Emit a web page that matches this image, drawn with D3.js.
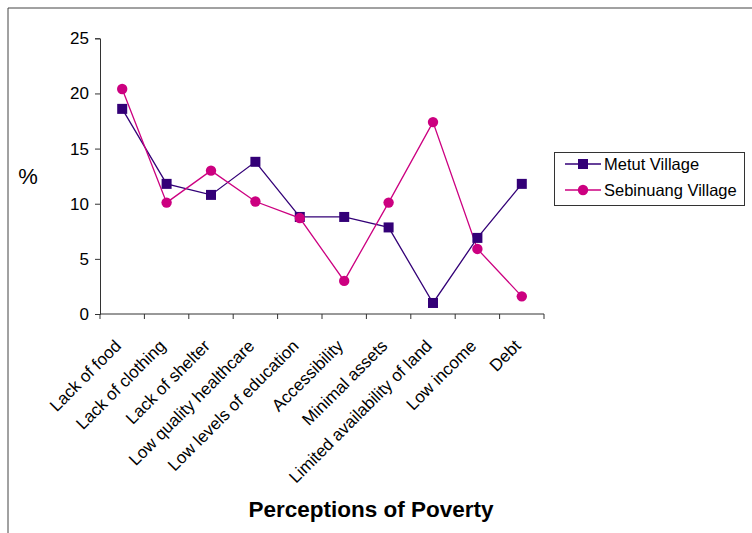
<!DOCTYPE html>
<html><head><meta charset="utf-8">
<script src="https://cdn.jsdelivr.net/npm/d3@7"></script>
<style>body{margin:0;background:#fff}svg{display:block;font-family:"Liberation Sans",Arial,sans-serif}</style>
</head><body>
<svg id="c" width="752" height="533"></svg>
<script>
const categories = ["Lack of food","Lack of clothing","Lack of shelter","Low quality healthcare","Low levels of education","Accessibility","Minimal assets","Limited availability of land","Low income","Debt"];
const metut = [18.6, 11.8, 10.8, 13.8, 8.8, 8.8, 7.85, 1.0, 6.9, 11.8];
const sebinuang = [20.4, 10.1, 13.0, 10.2, 8.7, 3.0, 10.1, 17.4, 5.9, 1.6];
const yTicks = [0, 5, 10, 15, 20, 25];
const seriesNames = ["Metut Village", "Sebinuang Village"];

const svg = d3.select("#c");
svg.append("path").attr("d","M8,533V8H752").attr("fill","none").attr("stroke","#444").attr("stroke-width",1);

const x = d3.scaleBand().domain(categories).range([100, 544]);
const y = d3.scaleLinear().domain([0, 25]).range([314, 38.3]);

// y axis
const ya = svg.append("g").attr("transform","translate(100,0)")
  .call(d3.axisLeft(y).tickValues(yTicks).tickSize(5).tickPadding(6));
ya.select(".domain").attr("stroke","#333");
ya.selectAll(".tick line").attr("stroke","#333");
ya.selectAll("text").attr("font-size",17).attr("fill","#000").attr("font-family","Liberation Sans, Arial");

// x axis
const xa = svg.append("g").attr("transform","translate(0,314)");
xa.append("line").attr("x1",100).attr("x2",544).attr("stroke","#333");
const bounds = categories.map(c => x(c)).concat([544]);
xa.selectAll("line.t").data(bounds).join("line").attr("class","t")
  .attr("x1",d=>d).attr("x2",d=>d).attr("y1",0).attr("y2",5).attr("stroke","#333");
xa.selectAll("text").data(categories).join("text")
  .attr("transform", d => `translate(${x(d)+x.bandwidth()/2},${33}) rotate(-45)`)
  .attr("text-anchor","end").attr("font-size",17).attr("fill","#000")
  .text(d=>d);

const line = d3.line().x((d,i)=>x(categories[i])+x.bandwidth()/2).y(d=>y(d));
const cM = "#330077", cS = "#CC0080";
svg.append("path").datum(metut).attr("d",line).attr("fill","none").attr("stroke",cM).attr("stroke-width",1.3);
svg.append("path").datum(sebinuang).attr("d",line).attr("fill","none").attr("stroke",cS).attr("stroke-width",1.3);
svg.selectAll("rect.m").data(metut).join("rect").attr("class","m")
  .attr("x",(d,i)=>x(categories[i])+x.bandwidth()/2-5).attr("y",d=>y(d)-5)
  .attr("width",10).attr("height",10).attr("fill",cM);
svg.selectAll("circle.s").data(sebinuang).join("circle").attr("class","s")
  .attr("cx",(d,i)=>x(categories[i])+x.bandwidth()/2).attr("cy",d=>y(d))
  .attr("r",5.2).attr("fill",cS);

// labels
svg.append("text").attr("x",28).attr("y",184).attr("text-anchor","middle").attr("font-size",22).text("%");
svg.append("text").attr("x",371).attr("y",517).attr("text-anchor","middle").attr("font-size",22.5).attr("font-weight","bold").text("Perceptions of Poverty");

// legend
const lg = svg.append("g");
lg.append("rect").attr("x",554.5).attr("y",152.5).attr("width",190).attr("height",53).attr("fill","#fff").attr("stroke","#333");
seriesNames.forEach((n,i)=>{
  const yy = 164 + i*26;
  const col = i===0?cM:cS;
  lg.append("line").attr("x1",565).attr("x2",601).attr("y1",yy).attr("y2",yy).attr("stroke",col).attr("stroke-width",1.3);
  if(i===0) lg.append("rect").attr("x",578).attr("y",yy-5).attr("width",10).attr("height",10).attr("fill",col);
  else lg.append("circle").attr("cx",583).attr("cy",yy).attr("r",5.2).attr("fill",col);
  lg.append("text").attr("x",604).attr("y",yy+6).attr("font-size",16.5).text(n);
});
</script>
</body></html>
